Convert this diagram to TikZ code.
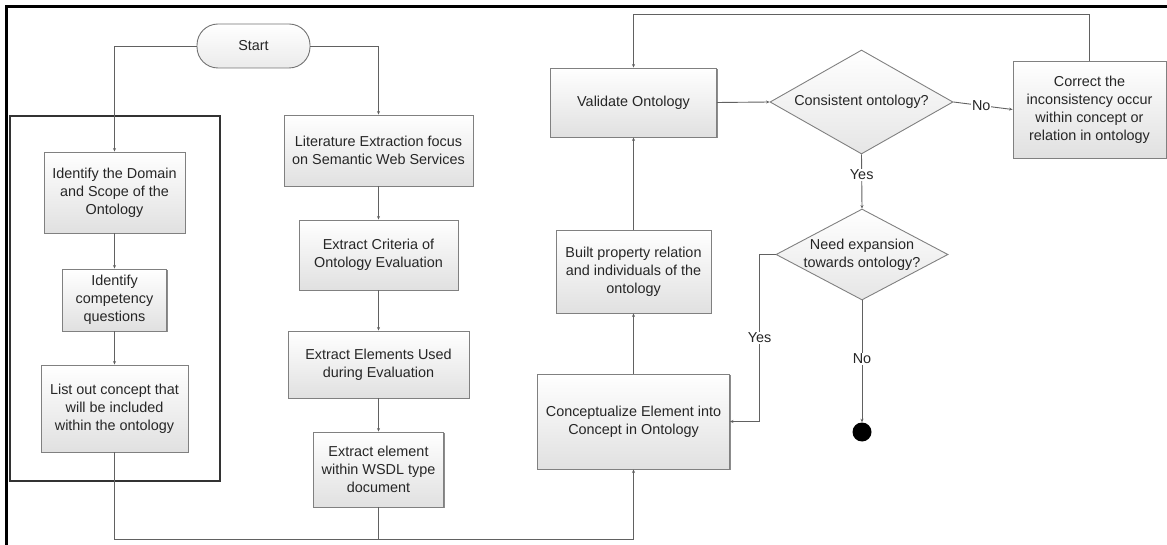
\documentclass[tikz,border=0pt]{standalone}
\usepackage{fontspec}
\setmainfont{Liberation Sans}
\usetikzlibrary{shapes.geometric,arrows.meta,shadows,calc}
\begin{document}
\begin{tikzpicture}[x=1pt,y=-1pt,
  every node/.style={font=\fontsize{14.4}{18}\selectfont, text=black!85},
  procbox/.style={rectangle, draw=black!50, line width=0.9pt, top color=white, bottom color=black!12,
    align=center, inner sep=0pt,
    drop shadow={shadow xshift=1.3pt, shadow yshift=-1.3pt, fill=black!45, opacity=1}},
  termbox/.style={rectangle, rounded corners=21pt, draw=black!55, line width=0.9pt, top color=white, bottom color=black!8,
    align=center, inner sep=0pt},
  decbox/.style={diamond, draw=black!50, line width=0.9pt, top color=white, bottom color=black!10, inner sep=0pt},
  conn/.style={draw=black!62, line width=0.9pt},
  arr/.style={conn, -{Stealth[length=3.5pt,width=3pt]}},
  lbl/.style={fill=white, inner sep=1pt}
]
\useasboundingbox (0,0) rectangle (1167,545);
% outer frame
\draw[black, line width=3pt] (6,545) -- (6,7) -- (1167,7);
% inner left frame
\draw[black!80, line width=1.3pt] (10,116) rectangle (220,481);

% nodes
\node[termbox, minimum width=113pt, minimum height=44pt] (start) at (253.5,46) {Start};
\node[procbox, minimum width=141pt, minimum height=81pt] (idom) at (114.5,192.5) {Identify the Domain\\and Scope of the\\Ontology};
\node[procbox, minimum width=104pt, minimum height=62pt] (icomp) at (114.5,300) {Identify\\competency\\questions};
\node[procbox, minimum width=147pt, minimum height=87pt] (list) at (114.5,408.5) {List out concept that\\will be included\\within the ontology};

\node[procbox, minimum width=189pt, minimum height=71pt] (lit) at (378.5,150.5) {Literature Extraction focus\\on Semantic Web Services};
\node[procbox, minimum width=159pt, minimum height=70pt] (crit) at (378.5,255) {Extract Criteria of\\Ontology Evaluation};
\node[procbox, minimum width=181pt, minimum height=67pt] (elem) at (378.5,364.5) {Extract Elements Used\\during Evaluation};
\node[procbox, minimum width=130pt, minimum height=75pt] (wsdl) at (378.5,469.5) {Extract element\\within WSDL type\\document};

\node[procbox, minimum width=192pt, minimum height=95pt] (concept) at (633.5,421.5) {Conceptualize Element into\\Concept in Ontology};
\node[procbox, minimum width=155pt, minimum height=83pt] (built) at (633.5,271.5) {Built property relation\\and individuals of the\\ontology};
\node[procbox, minimum width=166pt, minimum height=69pt] (valid) at (633.5,102.5) {Validate Ontology};

\node[decbox, minimum width=183pt, minimum height=104pt] (cons) at (861.5,102) {};
\node at (cons) {Consistent ontology?};
\node[procbox, minimum width=153pt, minimum height=97pt] (correct) at (1089.5,109.5) {Correct the\\inconsistency occur\\within concept or\\relation in ontology};
\node[decbox, minimum width=172pt, minimum height=91pt] (need) at (862,254.5) {};
\node[align=center] at (need) {Need expansion\\towards ontology?};
\node[circle, fill=black, minimum size=19pt, inner sep=0pt] (endc) at (862,432) {};

% connectors
\coordinate (b1) at (114.5,539);
\draw[arr] (start.west) -| (idom.north);
\draw[arr] (idom.south) -- (icomp.north);
\draw[arr] (icomp.south) -- (list.north);
\draw[arr] (list.south) -- (b1) -| (concept.south);
\draw[arr] (start.east) -| (lit.north);
\draw[arr] (lit.south) -- (crit.north);
\draw[arr] (crit.south) -- (elem.north);
\draw[arr] (elem.south) -- (wsdl.north);
\draw[conn] (wsdl.south) -- (wsdl.south |- b1);
\draw[arr] (concept.north) -- (built.south);
\draw[arr] (built.north) -- (valid.south);
\draw[arr] (valid.east) -- (cons.west);
\draw[arr] (cons.east) -- node[lbl, pos=0.47] {No} (correct.west);
\draw[arr] (correct.north) -- ++(0,-46.5) -| (valid.north);
\draw[arr] (cons.south) -- node[lbl, pos=0.38] {Yes} (need.north);
\draw[arr] (need.west) -- ++(-16,0) |- node[lbl, pos=0.25] {Yes} (concept.east);
\draw[arr] (need.south) -- node[lbl, pos=0.48] {No} (endc.north);
\end{tikzpicture}
\end{document}
